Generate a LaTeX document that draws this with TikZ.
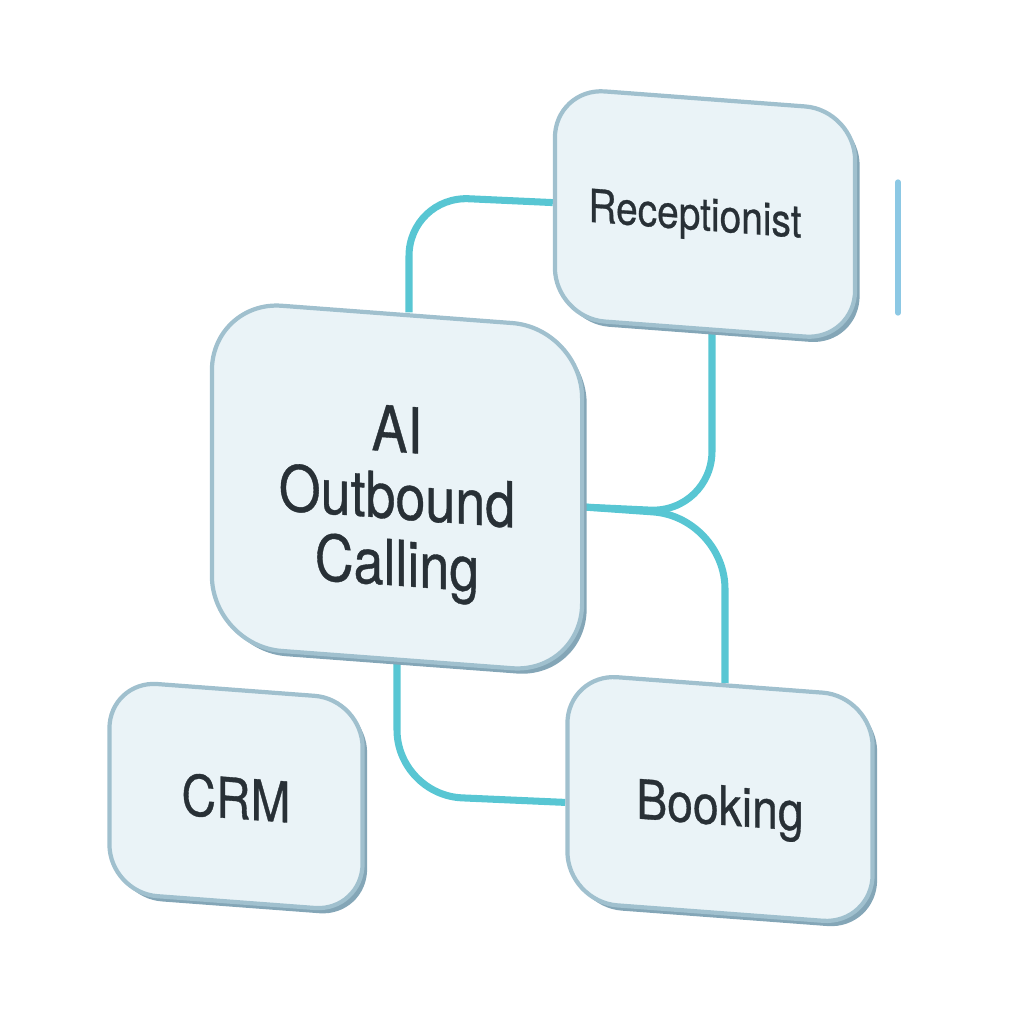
\documentclass[tikz,border=0pt]{standalone}
\usepackage{fontspec}
\setmainfont[FakeStretch=0.85,FakeBold=0.6]{TeX Gyre Heros}
\usetikzlibrary{backgrounds,shadows}

\definecolor{boxfill}{RGB}{234,243,247}
\definecolor{boxline}{RGB}{160,192,206}
\definecolor{boxedge}{RGB}{132,166,183}
\definecolor{linkcyan}{RGB}{88,198,211}
\definecolor{railblue}{RGB}{140,200,228}
\definecolor{inktext}{RGB}{40,48,54}

\begin{document}
\begin{tikzpicture}[x=0.01cm,y=-0.01cm,
  card/.style={rectangle, draw=boxline, fill=boxfill, line width=1.2pt,
    yslant=-0.075, text=inktext, align=center,
    drop shadow={shadow xshift=1.3pt, shadow yshift=-1.5pt, fill=boxedge, opacity=1}},
  link/.style={draw=linkcyan, line width=2pt},
  rail/.style={draw=railblue, line width=1.5pt, line cap=round}]
\useasboundingbox (0,0) rectangle (1024,1024);

% cards
\node[card, minimum width=3cm, minimum height=2.3cm, rounded corners=0.5cm, text height=12.2pt,
  font=\fontsize{13}{15}\selectfont] (recep) at (705,214) {Receptionist\kern0.2cm};
\node[card, minimum width=3.7cm, minimum height=3.45cm, rounded corners=0.7cm, text height=60pt,
  font=\fontsize{18}{19}\selectfont] (aiout) at (397,487) {AI\\Outbound\\Calling};
\node[card, minimum width=2.53cm, minimum height=2.12cm, rounded corners=0.48cm, text height=13.2pt,
  font=\fontsize{16}{18}\selectfont] (crm) at (236,796) {CRM};
\node[card, minimum width=3.05cm, minimum height=2.28cm, rounded corners=0.5cm, text height=18pt,
  font=\fontsize{15.5}{18}\selectfont] (booking) at (720,799) {Booking};

% links
\begin{scope}[on background layer]
\draw[link, rounded corners=0.6cm] ([xshift=0.12cm]aiout.north) -- (409,196) -- (recep.west);
\draw[link, rounded corners=0.62cm] ([xshift=0.07cm]recep.south) -- (712,513) -- ([yshift=-0.06cm]aiout.east);
\draw[link, rounded corners=0.72cm] ([yshift=-0.06cm]aiout.east) -- (725,517) -- ([xshift=0.05cm]booking.north);
\draw[link, rounded corners=0.65cm] (aiout.south) -- (397,795) -- ([yshift=-0.15cm]booking.west);
\end{scope}

% side rail
\coordinate (railtop) at (898,182);
\coordinate (railbot) at (898,313);
\draw[rail] (railtop) -- (railbot);
\end{tikzpicture}
\end{document}
